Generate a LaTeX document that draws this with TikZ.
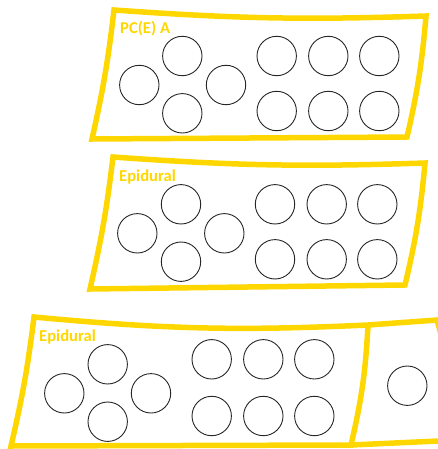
\documentclass[tikz,border=0pt]{standalone}
\usepackage{fontspec}
\setmainfont{Carlito}
\definecolor{trayyellow}{RGB}{255,215,0}

\tikzset{
  tray/.style={line width=5.5pt, trayyellow, line join=miter},
  well/.style={circle, draw=black!85, line width=0.9pt, minimum size=39.4pt, inner sep=0pt},
  traylabel/.style={anchor=base west, inner sep=0pt, text=trayyellow,
    font=\bfseries\fontsize{16.6}{16.6}\selectfont}
}

\begin{document}
\begin{tikzpicture}[x=1pt,y=-1pt]
        \useasboundingbox (0,0) rectangle (438,449);
        \clip (0,0) rectangle (438,449);

        % Top tray
        % Define corners of the tray
        \coordinate (t1) at (114,10);
        \coordinate (t2) at (426,16);
        \coordinate (t3) at (407,137);
        \coordinate (t4) at (92,139);
        \draw[tray] (t1) to[bend right=3] (t2) to[bend left=4] (t3) -- (t4) to[bend right=3] (t1) -- cycle;
        \node[traylabel] (tlab) at (120,34) {PC(E) A};

        % Wells of the top tray
        \node[well] (tw1) at (139.3,85) {};
        \node[well] (tw2) at (182.3,56) {};
        \node[well] (tw3) at (182.3,113.3) {};
        \node[well] (tw4) at (226,85) {};
        \foreach \c/\x in {1/276.7, 2/328.3, 3/379.3}
          \foreach \r/\y in {1/56, 2/111}
            \node[well] (tg\r\c) at (\x,\y) {};

        % Middle tray
        \coordinate (m1) at (113,157);
        \coordinate (m2) at (425,163);
        \coordinate (m3) at (405,285);
        \coordinate (m4) at (90,289);
        \draw[tray] (m1) to[bend right=3] (m2) to[bend left=4] (m3) -- (m4) to[bend right=3] (m1) -- cycle;
        \node[traylabel] (mlab) at (119,182) {Epidural};

        % Wells of the middle tray
        \node[well] (mw1) at (137.3,233.3) {};
        \node[well] (mw2) at (181,204.3) {};
        \node[well] (mw3) at (181,261.7) {};
        \node[well] (mw4) at (224.3,233.3) {};
        \foreach \c/\x in {1/275, 2/326.7, 3/377.3}
          \foreach \r/\y in {1/204.3, 2/259.3}
            \node[well] (mg\r\c) at (\x,\y) {};

        % Bottom tray, cut off at the right
        \coordinate (b1) at (34,317);
        \coordinate (b2) at (368,325);
        \coordinate (b3) at (351,445);
        \coordinate (b4) at (11,446);
        \coordinate (b5) at (437,320);
        \coordinate (b6) at (460,440);
        \draw[tray] (b1) to[bend right=4] (b2) to[bend left=5] (b3) -- (b4) to[bend right=3] (b1) -- cycle;
        \draw[tray] (b2) -- (b5) to[bend left=5] (b6);
        \draw[tray] (b3) -- (b6);
        \node[traylabel] (blab) at (39,341.5) {Epidural};

        % Wells of the bottom tray
        \node[well] (bw1) at (64.3,393.3) {};
        \node[well] (bw2) at (107.7,364.3) {};
        \node[well] (bw3) at (107.7,421.7) {};
        \node[well] (bw4) at (151,393.3) {};
        \foreach \c/\x in {1/211.7, 2/263.3, 3/314.3}
          \foreach \r/\y in {1/359.3, 2/416}
            \node[well] (bg\r\c) at (\x,\y) {};
        \node[well] (bx) at (407.3,385.7) {};

    \end{tikzpicture}
\end{document}
